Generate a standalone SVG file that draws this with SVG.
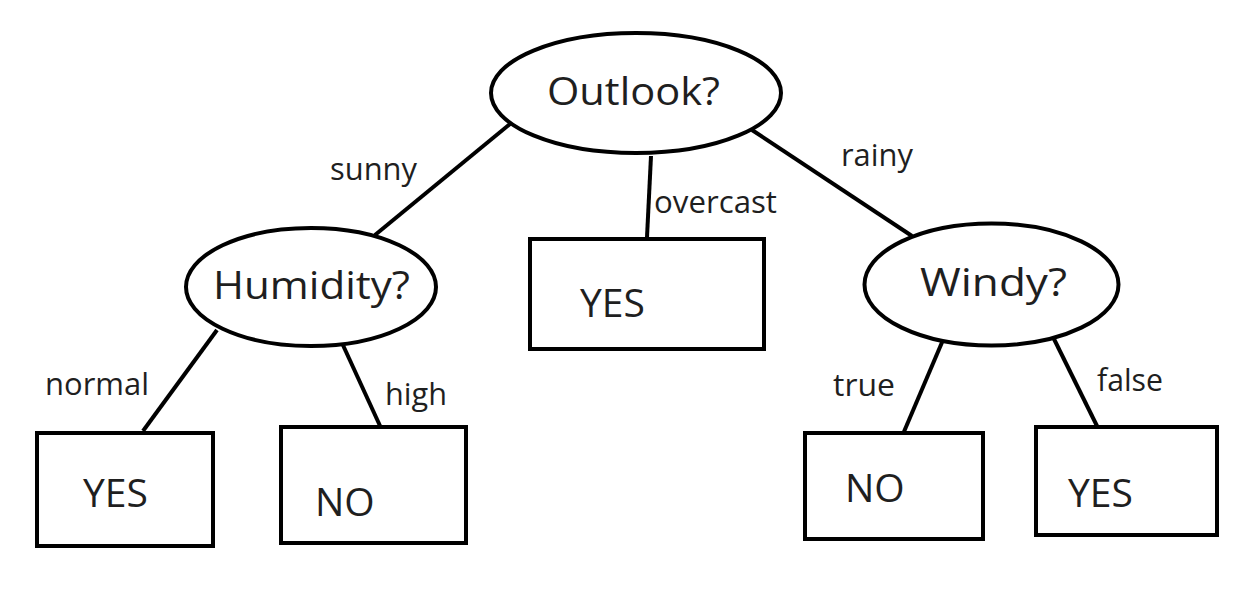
<svg xmlns="http://www.w3.org/2000/svg" width="1247" height="596" viewBox="0 0 1247 596">
<style>
.shape{fill:#fff;stroke:#000;stroke-width:4}
.edge{stroke:#000;stroke-width:4;fill:none}
.big{font-family:"Open Sans","DejaVu Sans",sans-serif;font-size:39px;fill:#1f1f1f}
.lbl{font-family:"Open Sans","DejaVu Sans",sans-serif;font-size:30.5px;fill:#1f1f1f}
</style>
<rect width="1247" height="596" fill="#fff"/>
<g id="connectors">
<line class="edge" x1="510" y1="124" x2="375" y2="235"/>
<line class="edge" x1="651" y1="156" x2="647" y2="237"/>
<line class="edge" x1="752" y1="130" x2="912" y2="236"/>
<line class="edge" x1="217" y1="330" x2="143" y2="431"/>
<line class="edge" x1="342" y1="343" x2="381" y2="428"/>
<line class="edge" x1="943" y1="340" x2="903" y2="434"/>
<line class="edge" x1="1053" y1="337" x2="1097" y2="426"/>
<text class="lbl" x="330" y="180" textLength="87" lengthAdjust="spacingAndGlyphs">sunny</text>
<text class="lbl" x="654" y="213" textLength="123" lengthAdjust="spacingAndGlyphs">overcast</text>
<text class="lbl" x="841" y="166" textLength="72" lengthAdjust="spacingAndGlyphs">rainy</text>
<text class="lbl" x="45" y="395" textLength="104" lengthAdjust="spacingAndGlyphs">normal</text>
<text class="lbl" x="385" y="405" textLength="62" lengthAdjust="spacingAndGlyphs">high</text>
<text class="lbl" x="833" y="396" textLength="62" lengthAdjust="spacingAndGlyphs">true</text>
<text class="lbl" x="1097" y="391" textLength="66" lengthAdjust="spacingAndGlyphs">false</text>
</g>
<g id="outlook">
<ellipse class="shape" cx="636" cy="93" rx="145" ry="60"/>
<text class="big" x="547" y="105" textLength="173" lengthAdjust="spacingAndGlyphs">Outlook?</text>
</g>
<g id="humidity">
<ellipse class="shape" cx="311" cy="287" rx="125" ry="59"/>
<text class="big" x="213" y="299" textLength="197" lengthAdjust="spacingAndGlyphs">Humidity?</text>
</g>
<g id="windy">
<ellipse class="shape" cx="991.5" cy="284.5" rx="127" ry="61"/>
<text class="big" x="920" y="296" textLength="147" lengthAdjust="spacingAndGlyphs">Windy?</text>
</g>
<g id="yes-overcast">
<rect class="shape" x="530" y="239" width="234" height="110"/>
<text class="big" x="580" y="317">YES</text>
</g>
<g id="yes-normal">
<rect class="shape" x="37" y="433" width="176" height="113"/>
<text class="big" x="83" y="507">YES</text>
</g>
<g id="no-high">
<rect class="shape" x="281" y="427" width="185" height="116"/>
<text class="big" x="315" y="516">NO</text>
</g>
<g id="no-true">
<rect class="shape" x="805" y="433" width="178" height="106"/>
<text class="big" x="845" y="502">NO</text>
</g>
<g id="yes-false">
<rect class="shape" x="1036" y="427" width="181" height="108"/>
<text class="big" x="1068" y="507">YES</text>
</g>
</svg>
